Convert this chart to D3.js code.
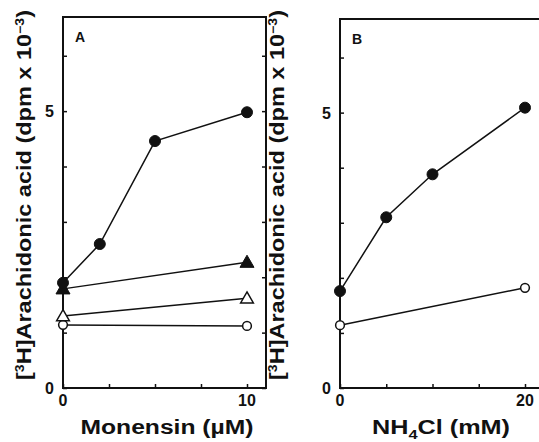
<!DOCTYPE html>
<html>
<head>
<meta charset="utf-8">
<script src="https://cdn.jsdelivr.net/npm/d3@7"></script>
<style>
  body { margin: 0; background: #fff; }
  text { font-family: "Liberation Sans", Arial, sans-serif; fill: #111; }
</style>
</head>
<body>
<svg id="chart" width="539" height="442"></svg>
<script>
// panel A: monensin (µM)
var monensinFull = [0, 2, 5, 10],
    monensinFilledCircle = [1.9, 2.6, 4.46, 4.98],
    monensinEnds = [0, 10],
    monensinFilledTri = [1.79, 2.27],
    monensinOpenTri = [1.3, 1.62],
    monensinOpenCircle = [1.14, 1.12];

// panel B: NH4Cl (mM)
var nh4clFull = [0, 5, 10, 20],
    nh4clFilledCircle = [1.76, 3.1, 3.88, 5.09],
    nh4clEnds = [0, 20],
    nh4clOpenCircle = [1.14, 1.82];

var yTicks = [0, 1, 2, 3, 4, 5, 6],
    yLabels = [0, 5],
    xTicksA = [0, 2.5, 5, 7.5, 10],
    xTicksB = [0, 5, 10, 15, 20];

var svg = d3.select("#chart");

function zip(xs, ys) {
    return xs.map(function (d, i) { return {x: d, y: ys[i]}; });
}

function drawPanel(opt) {
    var x = d3.scaleLinear().domain(opt.xDomain).range([opt.left, opt.right]),
        y = d3.scaleLinear().domain([0, 6.7]).range([388, opt.top]),
        g = svg.append("g");

    // ticks inward, no domain line (frame drawn below)
    g.append("g")
        .attr("transform", "translate(0,388)")
        .call(d3.axisBottom(x).tickValues(opt.xTicks).tickSize(-4).tickFormat(""))
        .call(function (s) { s.select(".domain").remove(); });
    g.append("g")
        .attr("transform", "translate(" + opt.left + ",0)")
        .call(d3.axisLeft(y).tickValues(yTicks).tickSize(-4).tickFormat(""))
        .call(function (s) { s.select(".domain").remove(); });
    if (opt.rightTicks) {
        g.append("g")
            .attr("transform", "translate(" + opt.right + ",0)")
            .call(d3.axisRight(y).tickValues(yTicks).tickSize(-4).tickFormat(""))
            .call(function (s) { s.select(".domain").remove(); });
    }
    g.selectAll(".tick line").attr("stroke", "#111").attr("stroke-width", 1.5);

    g.append("rect")
        .attr("x", opt.left).attr("y", opt.top)
        .attr("width", opt.right - opt.left).attr("height", 388 - opt.top)
        .attr("fill", "none").attr("stroke", "#111").attr("stroke-width", 2);

    // tick labels
    g.selectAll(".ylab").data(yLabels).enter().append("text")
        .attr("x", opt.left - 9).attr("y", function (d) { return y(d) + 6; })
        .attr("text-anchor", "end").attr("font-size", 16).attr("font-weight", "bold")
        .text(function (d) { return d; });
    g.selectAll(".xlab").data(opt.xLabels).enter().append("text")
        .attr("x", function (d) { return x(d); }).attr("y", 406)
        .attr("text-anchor", "middle").attr("font-size", 16).attr("font-weight", "bold")
        .text(function (d) { return d; });

    // panel letter
    g.append("text").attr("x", opt.left + 12).attr("y", opt.top + 25)
        .attr("font-size", 14).attr("font-weight", "bold").text(opt.letter);

    // y title
    var yt = g.append("text")
        .attr("transform", "translate(" + opt.yTitleX + ",195) rotate(-90)")
        .attr("text-anchor", "middle").attr("font-size", 20).attr("font-weight", "bold")
        .attr("textLength", 370).attr("lengthAdjust", "spacingAndGlyphs");
    yt.append("tspan").text("[");
    yt.append("tspan").attr("font-size", 12).attr("dy", -7).text("3");
    yt.append("tspan").attr("dy", 7).text("H]Arachidonic acid (dpm x 10");
    yt.append("tspan").attr("font-size", 12).attr("dy", -7).text("\u22123");
    yt.append("tspan").attr("dy", 7).text(")");

    // x title
    var xt = g.append("text")
        .attr("x", opt.xTitleX).attr("y", 434)
        .attr("text-anchor", "middle").attr("font-size", 20).attr("font-weight", "bold")
        .attr("textLength", opt.xTitleLen).attr("lengthAdjust", "spacingAndGlyphs");
    opt.xTitle(xt);

    var line = d3.line().x(function (d) { return x(d.x); }).y(function (d) { return y(d.y); });

    opt.series.forEach(function (s) {
        var pts = zip(s.xs, s.ys);
        g.append("path").datum(pts).attr("d", line)
            .attr("fill", "none").attr("stroke", "#111").attr("stroke-width", 1.5);
    });
    opt.series.forEach(function (s) {
        var pts = zip(s.xs, s.ys),
            open = s.open,
            sym = d3.symbol().type(s.shape === "tri" ? d3.symbolTriangle : d3.symbolCircle)
                .size(s.shape === "tri" ? (open ? 70 : 85) : (open ? 60 : 95));
        g.selectAll(null).data(pts).enter().append("path")
            .attr("d", sym)
            .attr("transform", function (d) {
                return "translate(" + x(d.x) + "," + (y(d.y) + (s.shape === "tri" ? 1 : 0)) + ")";
            })
            .attr("fill", open ? "#fff" : "#111")
            .attr("stroke", "#111").attr("stroke-width", open ? 1.5 : 1);
    });
}

drawPanel({
    letter: "A", left: 63, right: 266, top: 17,
    xDomain: [0, 10 * (266 - 63) / (247 - 63)],
    xTicks: xTicksA, xLabels: [0, 10], rightTicks: true,
    yTitleX: 31, xTitleX: 167, xTitleLen: 173,
    xTitle: function (t) { t.text("Monensin (\u00b5M)"); },
    series: [
        {xs: monensinEnds, ys: monensinOpenCircle, shape: "circle", open: true},
        {xs: monensinEnds, ys: monensinOpenTri, shape: "tri", open: true},
        {xs: monensinEnds, ys: monensinFilledTri, shape: "tri", open: false},
        {xs: monensinFull, ys: monensinFilledCircle, shape: "circle", open: false}
    ]
});

drawPanel({
    letter: "B", left: 340, right: 560, top: 19,
    xDomain: [0, 20 * (560 - 340) / (525 - 340)],
    xTicks: xTicksB, xLabels: [0, 20], rightTicks: false,
    yTitleX: 284, xTitleX: 441, xTitleLen: 138,
    xTitle: function (t) {
        t.append("tspan").text("NH");
        t.append("tspan").attr("font-size", 13).attr("dy", 5).text("4");
        t.append("tspan").attr("dy", -5).text("Cl (mM)");
    },
    series: [
        {xs: nh4clEnds, ys: nh4clOpenCircle, shape: "circle", open: true},
        {xs: nh4clFull, ys: nh4clFilledCircle, shape: "circle", open: false}
    ]
});
</script>
</body>
</html>
